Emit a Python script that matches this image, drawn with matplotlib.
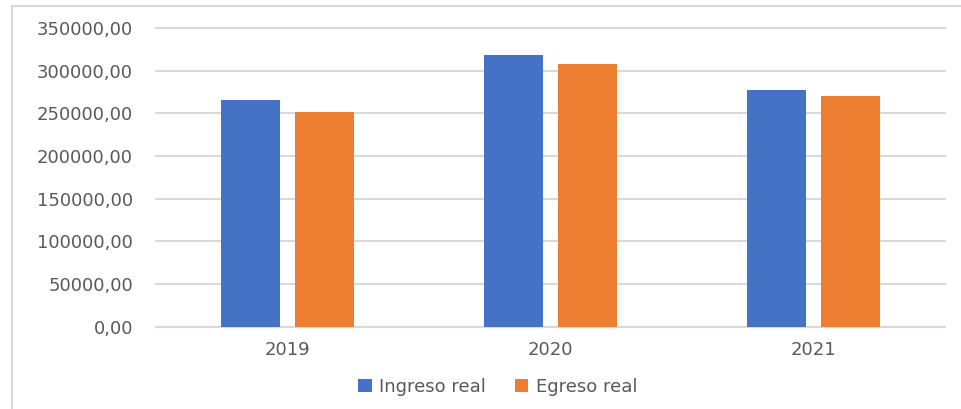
import matplotlib.pyplot as plt
from matplotlib.lines import Line2D
import numpy as np

# datos
years = ['2019', '2020', '2021']
ingreso_real = [265400, 318500, 277200]
egreso_real = [251400, 308000, 269800]
series_names = ['Ingreso real', 'Egreso real']
y_ticks = [0, 50000, 100000, 150000, 200000, 250000, 300000, 350000]

blue = '#4472C4'
orange = '#ED7D31'
grey_txt = '#595959'

plt.rcParams['font.family'] = ['DejaVu Sans']

fig = plt.figure(figsize=(9.61, 4.09), dpi=100)
ax = fig.add_axes([0.1623, 0.2012, 0.8211, 0.7303])

x = np.arange(len(years))
w = 0.224
off = 0.142
ax.bar(x - off, ingreso_real, w, color=blue, label=series_names[0], zorder=3)
ax.bar(x + off, egreso_real, w, color=orange, label=series_names[1], zorder=3)

ax.set_xlim(-0.5, 2.5)
ax.set_ylim(0, 350000)
ax.set_xticks(x)
ax.set_xticklabels(years)
ax.set_yticks(y_ticks)
ax.set_yticklabels([f'{v:.2f}'.replace('.', ',') for v in y_ticks])
ax.tick_params(axis='y', length=0, pad=16.5, labelsize=13, labelcolor=grey_txt)
ax.tick_params(axis='x', length=0, pad=10, labelsize=13, labelcolor=grey_txt)

ax.grid(axis='y', color='#D9D9D9', linewidth=1.5, zorder=0)
for gl in ax.get_ygridlines():
    gl.set_clip_on(False)
for s in ['top', 'right', 'left']:
    ax.spines[s].set_visible(False)
ax.spines['bottom'].set_color('#D9D9D9')
ax.spines['bottom'].set_linewidth(1.5)

# leyenda
leg = fig.legend(loc='center', bbox_to_anchor=(0.518, 0.054), ncol=2, frameon=False,
                 fontsize=13, handlelength=0.75, handleheight=0.75,
                 handletextpad=0.4, columnspacing=1.6)
for t in leg.get_texts():
    t.set_color(grey_txt)

# borde del grafico
fig.add_artist(Line2D([12 / 961, 12 / 961], [0, 1 - 6 / 409], transform=fig.transFigure,
                      color='#D9D9D9', linewidth=1.5))
fig.add_artist(Line2D([12 / 961, 1], [1 - 6 / 409, 1 - 6 / 409], transform=fig.transFigure,
                      color='#D9D9D9', linewidth=1.5))

fig.savefig('out.png', dpi=100)
